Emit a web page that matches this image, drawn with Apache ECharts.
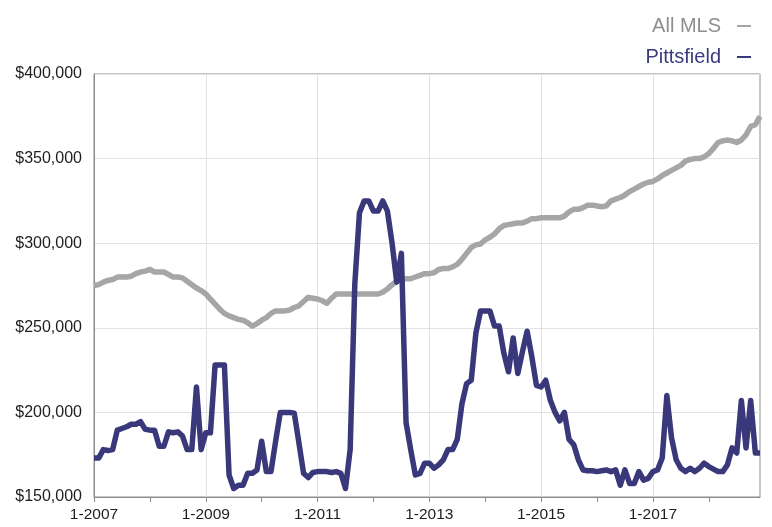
<!DOCTYPE html>
<html>
<head>
<meta charset="utf-8">
<script src="https://cdn.jsdelivr.net/npm/echarts@6/dist/echarts.min.js"></script>
<style>
  html, body { margin: 0; padding: 0; background: #fff; }
  #chart { width: 772px; height: 527px; }
</style>
</head>
<body>
<div id="chart"></div>
<script>
// median price, in thousands of dollars, monthly Jan 2007 - Dec 2018
var years = [2007, 2008, 2009, 2010, 2011, 2012, 2013, 2014, 2015, 2016, 2017, 2018];
var seriesNames = ['All MLS', 'Pittsfield'];

var allMls = [
  275, 275.5, 277, 278, 278.5, 280, 280, 280, 280.5, 282, 283, 283.5,
  284.5, 283, 283, 283, 281.5, 280, 280, 279.5, 277.5, 275.5, 273.5, 272,
  270, 267, 264, 261, 258.5, 257, 256, 255, 254.5, 253, 251, 252.5,
  254.5, 256, 258.5, 260, 260, 260, 260.5, 262, 263, 265.5, 268, 267.5,
  267, 266, 264.5, 267.5, 270, 270, 270, 270, 270, 270, 270, 270,
  270, 270, 271, 273, 275.5, 277.5, 278.5, 279, 279, 280, 281, 282,
  282, 282.5, 284.5, 285, 285, 286, 287.5, 290.5, 294, 297.5, 299, 299.5,
  302, 303.5, 305.5, 308.5, 310.5, 311, 311.5, 312, 312, 313, 314.5, 314.5,
  315, 315, 315, 315, 315, 316, 318.5, 320, 320, 321, 322.5, 322.5,
  322, 321.5, 322, 325, 326, 327, 328.5, 330.5, 332, 333.5, 335, 336,
  336.5, 338, 340, 341.5, 343, 344.5, 346, 348.5, 349.5, 350, 350, 351,
  353, 356, 359.5, 360.5, 361, 360.5, 359.5, 361, 364, 369, 370, 375
];

var pittsfield = [
  173, 173, 178, 177.5, 178, 189.5, 190.5, 191.5, 193, 193, 194.5, 190,
  189.5, 189.5, 180, 180, 188.5, 188, 188.5, 186, 178, 178, 215, 178,
  188, 188, 228, 228, 228, 163, 155, 157, 157, 164, 164, 166,
  183, 165, 165, 183, 200, 200, 200, 199.5, 182, 164, 161.5, 164.5,
  165, 165, 165, 164.5, 165, 164, 155, 178, 276, 318, 325, 325,
  319, 319, 325, 319, 300, 277, 294, 194, 178, 163, 164, 170,
  170, 167, 169, 172, 178, 178, 184, 205, 217, 219, 247, 260,
  260, 260, 251, 251, 235, 224, 244, 223, 236, 248, 233, 216,
  215, 219, 207, 200, 195, 200, 184, 181, 172, 166, 165.5, 165.5,
  165, 165.5, 166, 165, 166, 157, 166, 158, 158, 165, 160, 161,
  165, 166, 173, 210, 185, 172, 167, 165, 167, 165, 167, 170,
  168, 166.5, 165, 165, 169, 179, 176, 207, 179, 207, 176, 176
];

var yTicks = { min: 150, max: 400, step: 50 };

var months = [];
for (var y = 0; y < years.length; y++) {
  for (var m = 1; m <= 12; m++) months.push(m + '-' + years[y]);
}

var grayLine = '#a6a6a6';
var navyLine = '#38387a';
var fontFam = '"Liberation Sans", Arial, Helvetica, sans-serif';

var myChart = echarts.init(document.getElementById('chart'));
option = {
  animation: false,
  backgroundColor: '#fff',
  grid: {
    left: 94, right: 12, top: 74, bottom: 30,
    show: true, borderColor: '#8c8c8c', borderWidth: 1
  },
  legend: {
    orient: 'vertical',
    right: 16,
    top: 11,
    align: 'right',
    itemGap: 11,
    itemWidth: 14,
    itemHeight: 2,
    icon: 'rect',
    selectedMode: false,
    textStyle: { fontSize: 20, fontFamily: fontFam, lineHeight: 20, padding: [0, 11, 0, 0] },
    data: [
      { name: seriesNames[0], textStyle: { color: '#8e8e8e' } },
      { name: seriesNames[1], textStyle: { color: '#3b3b80' } }
    ]
  },
  xAxis: {
    type: 'category',
    data: months,
    boundaryGap: false,
    axisLine: { lineStyle: { color: '#8c8c8c', width: 1 } },
    axisTick: {
      show: true, length: 5,
      interval: function (i) { return i % 12 === 0; },
      lineStyle: { color: '#8c8c8c' }
    },
    axisLabel: {
      interval: function (i) { return i % 24 === 0; },
      color: '#1e1e1e', fontSize: 15.5, fontFamily: fontFam, margin: 10
    },
    splitLine: {
      show: true,
      interval: function (i) { return i % 24 === 0; },
      lineStyle: { color: '#e2e2e2', width: 1 }
    }
  },
  yAxis: {
    type: 'value',
    min: yTicks.min, max: yTicks.max, interval: yTicks.step,
    axisLine: { show: true, lineStyle: { color: '#8c8c8c' } },
    axisTick: { show: false },
    axisLabel: {
      color: '#1e1e1e', fontSize: 16, fontFamily: fontFam, margin: 12,
      formatter: function (v) { return '$' + v + ',000'; }
    },
    splitLine: { lineStyle: { color: '#e2e2e2', width: 1 } }
  },
  series: [
    {
      name: seriesNames[0], type: 'line', data: allMls,
      showSymbol: false, color: grayLine,
      lineStyle: { width: 5.5, color: grayLine, join: 'round' }
    },
    {
      name: seriesNames[1], type: 'line', data: pittsfield,
      showSymbol: false, color: navyLine,
      lineStyle: { width: 5.5, color: navyLine, join: 'round' }
    }
  ]
};
myChart.setOption(option);
</script>
</body>
</html>
